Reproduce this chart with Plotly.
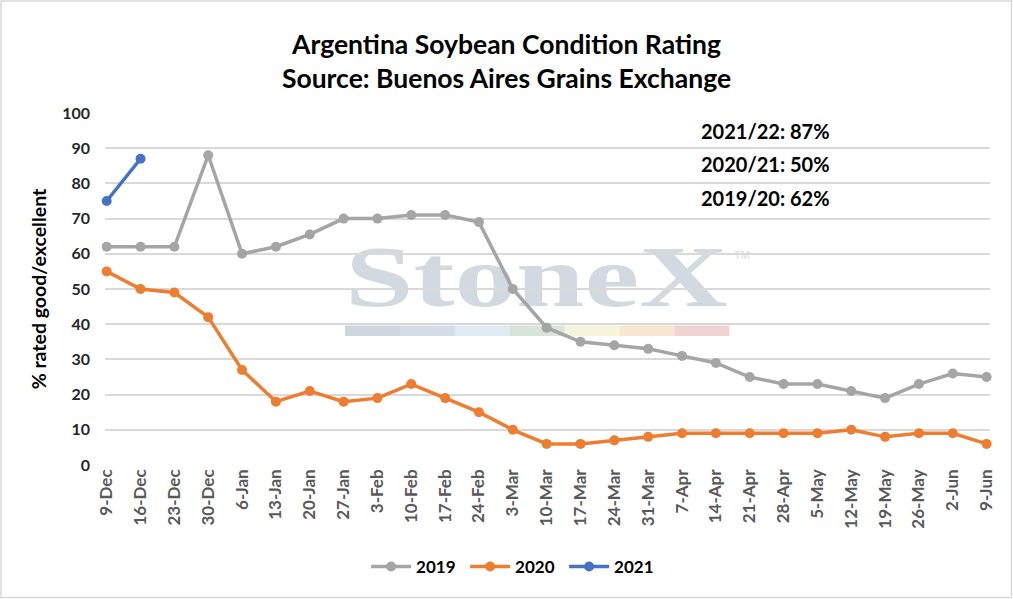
import base64
import plotly.graph_objects as go

categories = ["9-Dec", "16-Dec", "23-Dec", "30-Dec", "6-Jan", "13-Jan", "20-Jan", "27-Jan",
              "3-Feb", "10-Feb", "17-Feb", "24-Feb", "3-Mar", "10-Mar", "17-Mar", "24-Mar",
              "31-Mar", "7-Apr", "14-Apr", "21-Apr", "28-Apr", "5-May", "12-May", "19-May",
              "26-May", "2-Jun", "9-Jun"]
s2019 = [62, 62, 62, 88, 60, 62, 65.5, 70, 70, 71, 71, 69, 50, 39, 35, 34, 33, 31, 29, 25,
         23, 23, 21, 19, 23, 26, 25]
s2020 = [55, 50, 49, 42, 27, 18, 21, 18, 19, 23, 19, 15, 10, 6, 6, 7, 8, 9, 9, 9, 9, 9, 10,
         8, 9, 9, 6]
s2021 = [75, 87]
notes = ["2021/22: 87%", "2020/21: 50%", "2019/20: 62%"]
y_ticks = [0, 10, 20, 30, 40, 50, 60, 70, 80, 90, 100]

W, H = 1013, 599
L, R, T, B = 105, 23, 113, 134
PW, PH = W - L - R, H - T - B

FONT = "Lato"

# watermark as an SVG image placed behind the gridlines
bar_cols = ["#cfd6e0", "#d3dde8", "#deebf3", "#d6e4dc", "#f7f4dc", "#f9e6cf", "#f0d3d3"]
rects = "".join(
    f'<rect x="{345 + i * 54.9:.1f}" y="325.5" width="55" height="10.5" fill="{c}"/>'
    for i, c in enumerate(bar_cols))
svg = f'''<svg xmlns="http://www.w3.org/2000/svg" width="{W}" height="{H}" viewBox="0 0 {W} {H}">
<text x="345" y="306" font-family="Liberation Serif" font-weight="bold" font-size="86"
 fill="#d2d9e0" textLength="383" lengthAdjust="spacingAndGlyphs">StoneX</text>
<text x="734" y="259" font-family="Liberation Sans" font-size="11" fill="#d6dce3">TM</text>
{rects}
</svg>'''
src = "data:image/svg+xml;base64," + base64.b64encode(svg.encode()).decode()

fig = go.Figure()
line_w = 3.5
msize = 10
fig.add_trace(go.Scatter(x=categories, y=s2019, name="2019", mode="lines+markers",
                         line=dict(color="#A5A5A5", width=line_w),
                         marker=dict(size=msize, color="#A5A5A5"), cliponaxis=False))
fig.add_trace(go.Scatter(x=categories, y=s2020, name="2020", mode="lines+markers",
                         line=dict(color="#ED7D31", width=line_w),
                         marker=dict(size=msize, color="#ED7D31"), cliponaxis=False))
fig.add_trace(go.Scatter(x=categories[:len(s2021)], y=s2021, name="2021", mode="lines+markers",
                         line=dict(color="#4472C4", width=line_w),
                         marker=dict(size=msize, color="#4472C4"), cliponaxis=False))

annotations = []
for i, t in enumerate(notes):
    annotations.append(dict(text=f"<b>{t}</b>", xref="paper", yref="paper",
                            x=(699 - L) / PW, y=1 - (131 + i * 33.5 - T) / PH,
                            xanchor="left", yanchor="middle", showarrow=False,
                            font=dict(family=FONT, size=20, color="#000000")))

fig.update_layout(
    width=W, height=H,
    margin=dict(l=L, r=R, t=T, b=B),
    paper_bgcolor="white", plot_bgcolor="white",
    title=dict(text="<b>Argentina Soybean Condition Rating<br>Source: Buenos Aires Grains Exchange</b>",
               x=0.5, xanchor="center", xref="container", y=(H - 53.5) / H, yanchor="middle",
               font=dict(family=FONT, size=26.5, color="#000000")),
    font=dict(family=FONT),
    showlegend=True,
    legend=dict(orientation="h", x=0.508, xanchor="center",
                xref="container", y=1 - 567 / H, yref="container", yanchor="middle",
                font=dict(family=FONT, size=17, color="#000000", weight="bold"),
                entrywidth=44, entrywidthmode="pixels", itemwidth=40,
                traceorder="normal"),
    annotations=annotations,
    images=[dict(source=src, xref="paper", yref="paper", x=-L / PW, y=1 + T / PH,
                 sizex=W / PW, sizey=H / PH, xanchor="left", yanchor="top",
                 sizing="stretch", layer="below")],
    shapes=[dict(type="rect", xref="paper", yref="paper",
                 x0=(-L + 1) / PW, x1=(W - L - 1.5) / PW, y0=(-B + 1.5) / PH, y1=1 + (T - 1) / PH,
                 line=dict(color="#d9d9d9", width=1.5), fillcolor="rgba(0,0,0,0)", layer="below")],
)
fig.update_xaxes(type="category", range=[-0.05, 26.1], tickangle=-90, showgrid=False,
                 showline=False, zeroline=False, ticks="",
                 tickfont=dict(family=FONT, size=17, color="#595959", weight="bold"))
fig.update_yaxes(range=[0, 100], tickvals=y_ticks, showgrid=True, gridcolor="#d9d9d9",
                 gridwidth=1.5, zeroline=False, showline=False, ticks="",
                 ticklabelstandoff=14,
                 tickfont=dict(family=FONT, size=16, color="#262626", weight="bold"),
                 title=dict(text="<b>% rated good/excellent</b>", standoff=10,
                            font=dict(family=FONT, size=19.5, color="#000000")))

fig.write_html("out.html", config={"displayModeBar": False},
               post_script="document.body.style.margin='0';document.body.style.overflow='hidden';")
